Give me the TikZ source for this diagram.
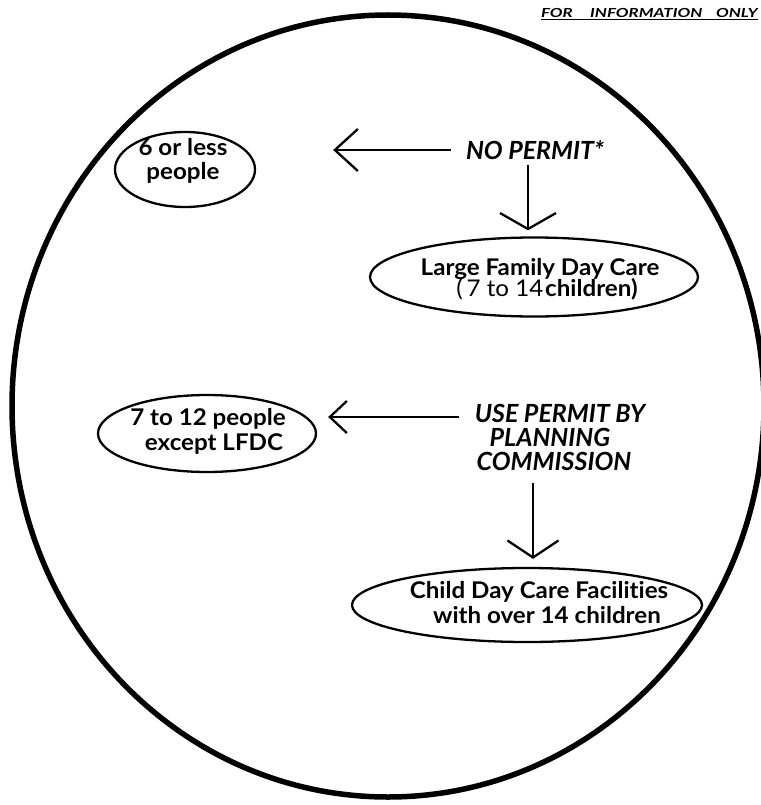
\documentclass[tikz,border=0pt]{standalone}
\usepackage{fontspec}
\setmainfont[Ligatures={NoCommon,NoContextual,NoRare}]{Lato}
\newfontfamily\lblfont[FakeStretch=1.05,Ligatures={NoCommon,NoContextual,NoRare}]{Lato}
\newfontfamily\hdrfont[FakeStretch=1.35]{Lato}
\usetikzlibrary{arrows.meta,shapes.geometric,calc}
\begin{document}
\begin{tikzpicture}[x=1pt,y=-1pt,
  oval/.style={draw, ellipse, line width=2.3pt, inner sep=0pt},
  lbl/.style={font=\lblfont\bfseries\fontsize{23}{26}\selectfont, inner sep=0pt, anchor=base},
  perm/.style={font=\bfseries\itshape\fontsize{25}{28}\selectfont, inner sep=0pt, anchor=base},
  link/.style={line width=2.3pt}
]
\useasboundingbox (0,0) rectangle (760,805);
% big circle
\draw[line width=5.5pt] (388,406) ellipse [x radius=376pt, y radius=391pt];
% header
\node[inner sep=0pt, anchor=base east, font=\hdrfont\bfseries\itshape\fontsize{12.5}{14}\selectfont] (hdr) at (758,18)
  {\underline{FOR\hspace{1.4em}INFORMATION\hspace{1.1em}ONLY}};
% ellipses
\node[oval, minimum width=140pt, minimum height=75pt] (e1) at (185,169.5) {};
\node[oval, minimum width=328pt, minimum height=79pt] (e2) at (534,277) {};
\node[oval, minimum width=218pt, minimum height=77pt] (e3) at (207,433.5) {};
\node[oval, minimum width=350pt, minimum height=74pt] (e4) at (527,605) {};
% ellipse texts
\node[lbl] (e1a) at (183,156) {6 or less};
\node[lbl] (e1b) at (183,179) {people};
\node[lbl] (e2a) at (540,275) {Large Family Day Care};
\node[lbl] (e2b) at (547,296) {{\mdseries(\,7 to 14\,}\kern-2pt children)};
\node[lbl] (e3a) at (208,425) {7 to 12 people};
\node[lbl] (e3b) at (214,450) {except LFDC};
\node[lbl] (e4a) at (539,598) {Child Day Care Facilities};
\node[lbl] (e4b) at (547,623) {with over 14 children};
% permit texts
\node[perm] (np) at (535,160) {NO PERMIT*};
\node[perm] (up1) at (560,422) {USE PERMIT BY};
\node[perm] (up2) at (550,446) {PLANNING};
\node[perm] (up3) at (554,470) {COMMISSION};
% connectors
\draw[link, -{Straight Barb[length=23pt,width=42pt]}]
  ($(np.base west)+(-15,-10)$) -- ($(np.base west -| e1.east)+(77,-10)$);
\draw[link, -{Straight Barb[length=16pt,width=56pt]}]
  ($(np.base)+(-7,5)$) -- ($(np.base |- e2.north)+(-7,-6)$);
\draw[link, -{Straight Barb[length=17pt,width=32pt]}]
  ($(up1.base west)+(-16,-5)$) -- ($(up1.base west -| e3.east)+(11,-5)$);
\draw[link, -{Straight Barb[length=17pt,width=51pt]}]
  ($(up3.base -| e4.north)+(6,13)$) -- ($(e4.north)+(6,-8)$);
\end{tikzpicture}
\end{document}
